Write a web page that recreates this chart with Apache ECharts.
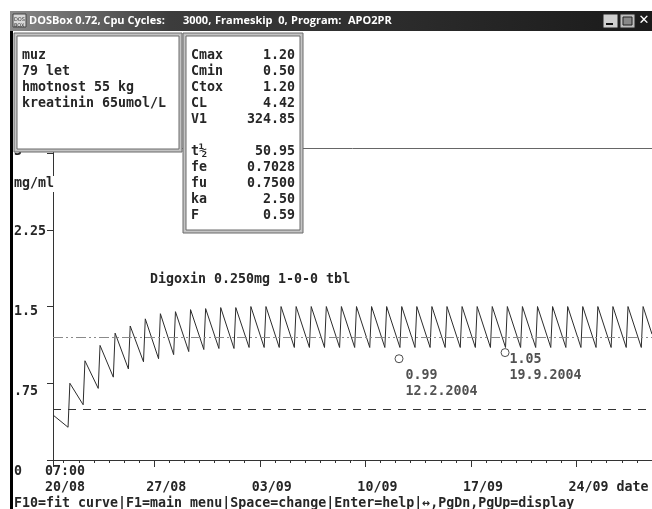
<!DOCTYPE html>
<html><head><meta charset="utf-8">
<script src="https://cdn.jsdelivr.net/npm/echarts@6/dist/echarts.min.js"></script>
<style>html,body{margin:0;padding:0;background:#fff;overflow:hidden}#c{width:652px;height:509px}</style>
</head><body><div id="c"></div>
<script>
// ---------- data ----------
const windowTitleParts = ['DOSBox 0.72, Cpu Cycles:', '3000,', 'Frameskip  0,', 'Program:', 'APO2PR'];
const patientLines = ['muz', '79 let', 'hmotnost 55 kg', 'kreatinin 65umol/L'];
const paramNames  = ['Cmax', 'Cmin', 'Ctox', 'CL', 'V1', '', 't½', 'fe', 'fu', 'ka', 'F'];
const paramValues = ['1.20', '0.50', '1.20', '4.42', '324.85', '', '50.95', '0.7028', '0.7500', '2.50', '0.59'];
const drugTitle = 'Digoxin 0.250mg 1-0-0 tbl';
const yUnit = 'mg/ml';
const yTickValues = [0, 0.75, 1.5, 2.25, 3];
const yTickLabels = ['0', '.75', '1.5', '2.25', '3'];
// x in days since 20/08 00:00
const xStart = 0.2917;   // 20/08 07:00
const xEnd = 40;
const xMinorTicks = [1,2,3,4,5,6,7,8,9,10,11,12,13,14,15,16,17,18,19,20,21,22,23,24,25,26,27,28,29,30,31,32,33,34,35,36,37,38,39];
const xMajorTicks = [0.2917, 7, 14, 21, 28, 35];
const xMajorLabels = ['07:00\n20/08', '\n27/08', '\n03/09', '\n10/09', '\n17/09', '\n24/09 date'];
const startConc = 0.44;
const doseTimes = [1.29,2.29,3.29,4.29,5.29,6.29,7.29,8.29,9.29,10.29,11.29,12.29,13.29,14.29,15.29,16.29,17.29,18.29,19.29,20.29,21.29,22.29,23.29,24.29,25.29,26.29,27.29,28.29,29.29,30.29,31.29,32.29,33.29,34.29,35.29,36.29,37.29,38.29,39.29];
const peakTimes = [1.41,2.41,3.41,4.41,5.41,6.41,7.41,8.41,9.41,10.41,11.41,12.41,13.41,14.41,15.41,16.41,17.41,18.41,19.41,20.41,21.41,22.41,23.41,24.41,25.41,26.41,27.41,28.41,29.41,30.41,31.41,32.41,33.41,34.41,35.41,36.41,37.41,38.41,39.41];
const troughConc = [0.32,0.54,0.70,0.81,0.89,0.96,0.99,1.03,1.06,1.08,1.09,1.09,1.10,1.10,1.10,1.10,1.10,1.10,1.10,1.10,1.10,1.10,1.10,1.10,1.10,1.10,1.10,1.10,1.10,1.10,1.10,1.10,1.10,1.10,1.10,1.10,1.10,1.10,1.10];
const peakConc = [0.75,0.97,1.12,1.24,1.31,1.38,1.43,1.45,1.47,1.48,1.49,1.49,1.50,1.50,1.50,1.50,1.50,1.50,1.50,1.50,1.50,1.50,1.50,1.50,1.50,1.50,1.50,1.50,1.50,1.50,1.50,1.50,1.50,1.50,1.50,1.50,1.50,1.50,1.50];
const endTime = 40, endConc = 1.23;
const cMin = 0.50, cTox = 1.20;
const measTimes = [23.23, 30.26];
const measConc = [0.99, 1.05];
const measDates = ['12.2.2004', '19.9.2004'];
const statusText = 'F10=fit curve|F1=main menu|Space=change|Enter=help|↔,PgDn,PgUp=display';

// ---------- layout / style ----------
const MONO = '"DejaVu Sans Mono", monospace';
const FS = 13.3, CHAR_W = 8, ROW_H = 16, ROW0 = 8;
const TXT = '#262626';
const FW = 'bold';
const G = {left: 53, right: 0, top: 148, bottom: 49};
const W = 652, H = 509;
const Y_MAX = 3.05;
const pxPerDay = (W - G.left - G.right) / (xEnd - xStart);
const pxPerUnit = (H - G.top - G.bottom) / Y_MAX;

const curve = [[xStart, startConc]];
for (let i = 0; i < doseTimes.length; i++) {
  curve.push([doseTimes[i], troughConc[i]]);
  curve.push([peakTimes[i], peakConc[i]]);
}
curve.push([endTime, endConc]);

// x labels: text cell starts 8px left of its tick
const labelVals = xMajorTicks.map((t, i) => {
  const w = Math.max(...xMajorLabels[i].split('\n').map(s => s.length)) * CHAR_W;
  return t + (w / 2 - 8) / pxPerDay;
});
// y labels snapped to the DOS text rows (ticks stay at true positions)
const yRich = {};
yTickValues.forEach((v, i) => {
  const tickY = G.top + (Y_MAX - v) * pxPerUnit;
  const rowY = ROW0 + ROW_H * Math.ceil((tickY - ROW0 - 2) / ROW_H);
  const off = rowY - tickY;
  yRich['r' + i] = {fontFamily: MONO, fontSize: FS, fontWeight: FW, color: TXT,
    padding: off >= 0 ? [2 * off, 0, 0, 0] : [0, 0, -2 * off, 0]};
});

function box(x, y, w, h) {
  return [
    {type: 'rect', shape: {x: x, y: y, width: w, height: h}, style: {fill: '#c4c4c4', stroke: '#6a6a6a', lineWidth: 1}, z: 100},
    {type: 'rect', shape: {x: x + 3, y: y + 3, width: w - 6, height: h - 6}, style: {fill: '#fff', stroke: '#6a6a6a', lineWidth: 1}, z: 101}
  ];
}
function txt(x, y, s, align) {
  return {type: 'text', x: x, y: y, z: 102, style: {text: s, fontFamily: MONO, fontSize: FS, fontWeight: FW, fill: TXT, align: align || 'left', verticalAlign: 'middle'}};
}

const graphics = [];
// window title bar
graphics.push({type: 'rect', shape: {x: 10, y: 11, width: 642, height: 20}, z: 200,
  style: {fill: new echarts.graphic.LinearGradient(0, 0, 1, 0, [{offset: 0, color: '#8a8a8a'}, {offset: 0.25, color: '#3c3c3c'}, {offset: 1, color: '#1a1a1a'}])}});
graphics.push({type: 'rect', shape: {x: 13, y: 14, width: 13, height: 13}, z: 201, style: {fill: '#d8d8d8', stroke: '#444'}});
graphics.push({type: 'text', x: 14, y: 17, z: 202, style: {text: 'DOS\nBOX', fontSize: 5, lineHeight: 6, fontFamily: 'DejaVu Sans', fill: '#333'}});
const titleX = [29, 183, 215, 291, 348];
windowTitleParts.forEach((s, i) => graphics.push({type: 'text', x: titleX[i], y: 21, z: 202,
  style: {text: s, fontFamily: '"Open Sans", "DejaVu Sans", sans-serif', fontWeight: 'bold', fontSize: 11, fill: '#fff', verticalAlign: 'middle'}}));
// window buttons
[[603, '#d0d0d0'], [620, '#bdbdbd']].forEach(b => graphics.push({type: 'rect', shape: {x: b[0], y: 14, width: 15, height: 14}, z: 201, style: {fill: b[1], stroke: '#222'}}));
graphics.push({type: 'rect', shape: {x: 606, y: 23, width: 7, height: 2}, z: 202, style: {fill: '#111'}});
graphics.push({type: 'rect', shape: {x: 623, y: 17, width: 9, height: 8}, z: 202, style: {fill: '#888', stroke: '#222'}});
graphics.push({type: 'text', x: 644, y: 21, z: 202, style: {text: '✕', fontSize: 13, fontWeight: 'bold', fill: '#fff', align: 'center', verticalAlign: 'middle', fontFamily: 'DejaVu Sans'}});
// left black frame
graphics.push({type: 'rect', shape: {x: 10, y: 31, width: 3, height: 478}, z: 150, style: {fill: '#000'}});
// patient box
graphics.push(...box(14, 33, 168, 119));
patientLines.forEach((s, i) => graphics.push(txt(22, 56 + ROW_H * i, s)));
// parameter box
graphics.push(...box(183, 33, 120, 200));
paramNames.forEach((s, i) => {
  if (!s) return;
  graphics.push(txt(191, 56 + ROW_H * i, s));
  graphics.push(txt(295, 56 + ROW_H * i, paramValues[i], 'right'));
});
// unit label (its character cell hides the axis line)
graphics.push({type: 'rect', shape: {x: 14, y: 176, width: 41, height: 16}, z: 90, style: {fill: '#fff'}});
graphics.push({type: 'text', x: 14, y: 184, z: 91, style: {text: yUnit, fontFamily: MONO, fontSize: FS, fontWeight: FW, fill: TXT, verticalAlign: 'middle'}});
// status line
graphics.push({type: 'text', x: 14, y: 504, z: 91, style: {text: statusText, fontFamily: MONO, fontSize: FS, fontWeight: FW, fill: TXT, verticalAlign: 'middle'}});

const axisLineStyle = {color: '#333', width: 1};
const option = {
  animation: false,
  backgroundColor: '#fff',
  title: {text: drugTitle, left: 150, top: 272, padding: 0,
    textStyle: {fontFamily: MONO, fontSize: FS, fontWeight: FW, color: TXT, lineHeight: 16}},
  grid: {left: G.left, right: G.right, top: G.top, bottom: G.bottom, containLabel: false},
  xAxis: [
    {type: 'value', min: xStart, max: xEnd, position: 'bottom',
      axisLine: {lineStyle: axisLineStyle},
      axisTick: {customValues: xMinorTicks, length: 3, lineStyle: axisLineStyle},
      axisLabel: {show: false}, splitLine: {show: false}},
    {type: 'value', min: xStart, max: xEnd, position: 'bottom',
      axisLine: {show: false},
      axisTick: {customValues: xMajorTicks, length: 7, lineStyle: axisLineStyle},
      axisLabel: {customValues: labelVals, margin: 4, align: 'center', lineHeight: ROW_H,
        fontFamily: MONO, fontSize: FS, fontWeight: FW, color: TXT,
        formatter: v => {
          let best = 0;
          labelVals.forEach((lv, i) => { if (Math.abs(lv - v) < Math.abs(labelVals[best] - v)) best = i; });
          return xMajorLabels[best];
        }},
      splitLine: {show: false}},
    {type: 'value', min: xStart, max: xEnd, position: 'top',
      axisLine: {lineStyle: {color: '#666', width: 1}},
      axisTick: {show: false}, axisLabel: {show: false}, splitLine: {show: false}}
  ],
  yAxis: {type: 'value', min: 0, max: Y_MAX, interval: 0.75,
    axisLine: {show: true, lineStyle: axisLineStyle},
    axisTick: {show: true, length: 6, lineStyle: axisLineStyle},
    axisLabel: {align: 'left', margin: 39, fontFamily: MONO, fontSize: FS, fontWeight: FW, color: TXT,
      rich: yRich,
      formatter: v => {
        const i = yTickValues.findIndex(t => Math.abs(t - v) < 1e-6);
        return i >= 0 ? '{r' + i + '|' + yTickLabels[i] + '}' : '';
      }},
    splitLine: {show: false}},
  series: [
    {type: 'line', name: 'concentration', data: curve, showSymbol: false, symbol: 'none',
      lineStyle: {color: '#2c2c2c', width: 1}, z: 3,
      markLine: {silent: true, symbol: ['none', 'none'], label: {show: false},
        emphasis: {disabled: true},
        data: [
          {yAxis: cTox, lineStyle: {color: '#8a8a8a', width: 1, type: [10, 3, 2, 3, 2, 3]}},
          {yAxis: cMin, lineStyle: {color: '#333', width: 1, type: [8, 7]}}
        ]}},
    {type: 'scatter', name: 'measured', z: 5,
      data: measTimes.map((t, i) => ({value: [t, measConc[i]],
        label: {position: i === 0 ? [11, 13] : [9, 3]}})),
      symbol: 'circle', symbolSize: 8,
      itemStyle: {color: '#fff', borderColor: '#222', borderWidth: 1},
      label: {show: true, align: 'left', verticalAlign: 'top', lineHeight: ROW_H,
        fontFamily: MONO, fontSize: FS, fontWeight: FW, color: TXT,
        formatter: p => measConc[p.dataIndex].toFixed(2) + '\n' + measDates[p.dataIndex]}}
  ],
  graphic: graphics
};
const chart = echarts.init(document.getElementById('c'), null, {renderer: 'canvas'});
chart.setOption(option);
</script></body></html>
